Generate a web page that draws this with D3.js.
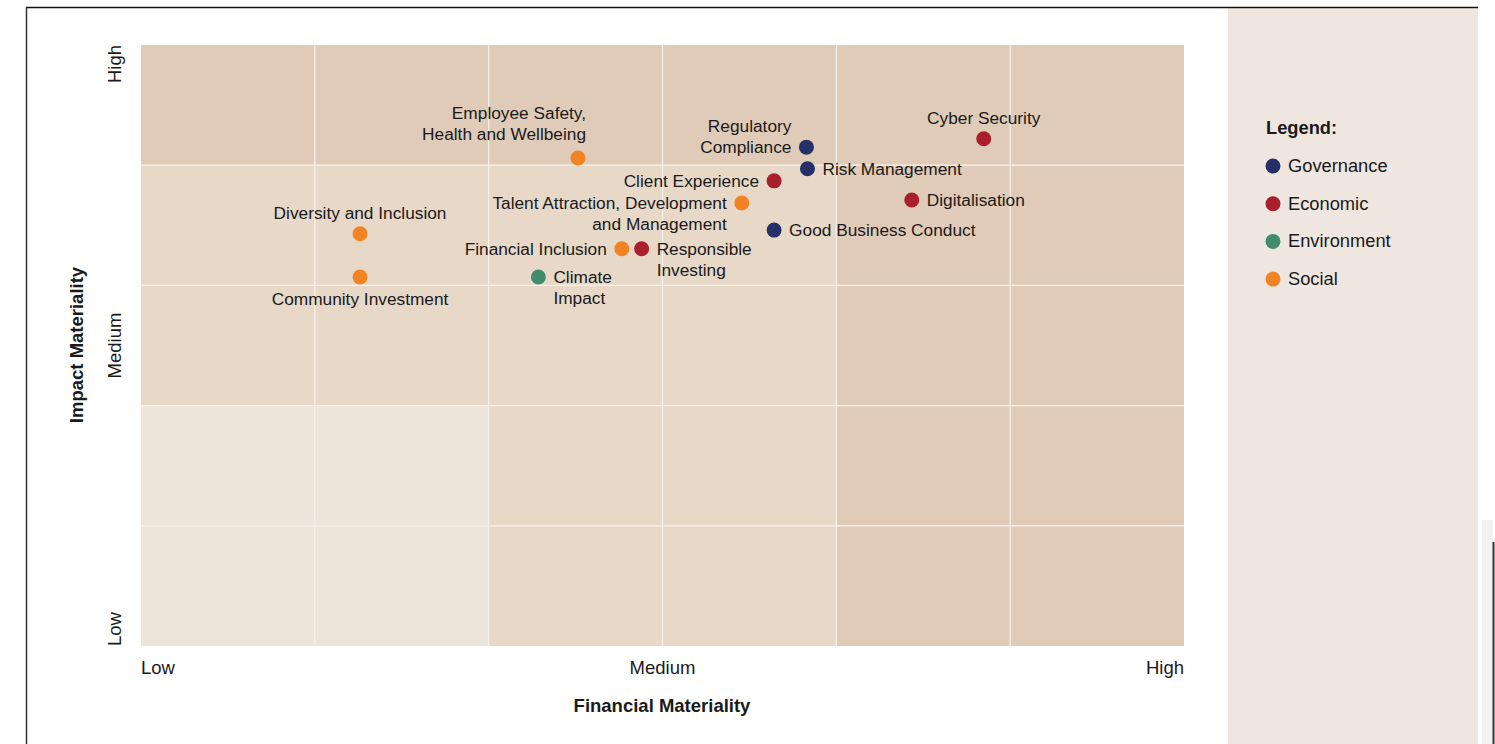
<!DOCTYPE html>
<html lang="en">
<head>
    <meta charset="UTF-8">
    <title>Materiality Matrix</title>
    <script src="https://d3js.org/d3.v7.min.js"></script>
    <style>
        body {
            margin: 0;
            background: #fff;
            font-family: "Liberation Sans", Arial, Helvetica, sans-serif;
        }
        svg text {
            fill: #1a1a1a;
        }
    </style>
</head>
<body>
    <svg width="1495" height="744"></svg>
    <script>
        // topics, their category and position (0-10 on both axes)
        const topics = [
            "Employee Safety,|Health and Wellbeing", "Diversity and Inclusion", "Community Investment",
            "Climate|Impact", "Financial Inclusion", "Responsible|Investing",
            "Talent Attraction, Development|and Management", "Client Experience", "Good Business Conduct",
            "Regulatory|Compliance", "Risk Management", "Digitalisation", "Cyber Security"
        ];
        const categories = ["Social", "Social", "Social", "Environment", "Social", "Economic",
            "Social", "Economic", "Governance", "Governance", "Governance", "Economic", "Economic"];
        const financial = [4.19, 2.10, 2.10, 3.81, 4.61, 4.80, 5.76, 6.07, 6.07, 6.38, 6.39, 7.39, 8.08];
        const impact = [8.12, 6.86, 6.14, 6.14, 6.61, 6.61, 7.37, 7.74, 6.92, 8.30, 7.94, 7.42, 8.44];
        // label placement: side of the dot
        const labelPos = ["left-up", "above", "below", "right", "left", "right",
            "left", "left", "right", "left-up", "right", "right", "above"];

        const legendNames = ["Governance", "Economic", "Environment", "Social"];
        const legendColors = ["#253068", "#a91f2e", "#3f8d6d", "#f28322"];
        const tickLabels = ["Low", "Medium", "High"];

        // background shading per grid cell (rows from top), 0 light, 1 medium, 2 dark
        const cellShade = [
            [2, 2, 2, 2, 2, 2],
            [1, 1, 1, 1, 2, 2],
            [1, 1, 1, 1, 2, 2],
            [0, 0, 1, 1, 2, 2],
            [0, 0, 1, 1, 2, 2]
        ];
        const shadeColors = ["#ede4da", "#e7d8c8", "#e0cbb8"];

        const svg = d3.select("svg");
        const color = d3.scaleOrdinal().domain(legendNames).range(legendColors);

        // frame and legend panel
        svg.append("rect").attr("x", 1228).attr("y", 8).attr("width", 250).attr("height", 736).attr("fill", "#efe6e0");
        svg.append("line").attr("x1", 26).attr("x2", 1478).attr("y1", 7.5).attr("y2", 7.5)
            .attr("stroke", "#111").attr("stroke-width", 1.5);
        svg.append("line").attr("x1", 26.5).attr("x2", 26.5).attr("y1", 7).attr("y2", 744)
            .attr("stroke", "#333").attr("stroke-width", 1.5);
        svg.append("rect").attr("x", 1482).attr("y", 520).attr("width", 11).attr("height", 224).attr("fill", "#f2f2f2");
        svg.append("line").attr("x1", 1493.5).attr("x2", 1493.5).attr("y1", 542).attr("y2", 744)
            .attr("stroke", "#333").attr("stroke-width", 2);

        const plotL = 141, plotR = 1184, plotT = 45, plotB = 646;
        const x = d3.scaleLinear().domain([0, 10]).range([plotL, plotR]);
        const y = d3.scaleLinear().domain([0, 10]).range([plotB, plotT]);

        const cols = d3.scaleBand().domain(d3.range(6)).range([plotL, plotR]);
        const rows = d3.scaleBand().domain(d3.range(5)).range([plotT, plotB]);

        const g = svg.append("g");
        cellShade.forEach((row, r) => {
            row.forEach((s, c) => {
                g.append("rect")
                    .attr("x", cols(c)).attr("y", rows(r))
                    .attr("width", cols.bandwidth()).attr("height", rows.bandwidth())
                    .attr("fill", shadeColors[s]);
            });
        });

        // white grid lines
        d3.range(1, 6).forEach(c => {
            g.append("line").attr("x1", cols(c)).attr("x2", cols(c)).attr("y1", plotT).attr("y2", plotB)
                .attr("stroke", "#f7f1eb").attr("stroke-width", 1.2);
        });
        d3.range(1, 5).forEach(r => {
            g.append("line").attr("x1", plotL).attr("x2", plotR).attr("y1", rows(r)).attr("y2", rows(r))
                .attr("stroke", "#f7f1eb").attr("stroke-width", 1.2);
        });

        // tick labels
        const tickVals = [0, 5, 10];
        const anchors = ["start", "middle", "end"];
        tickVals.forEach((v, i) => {
            svg.append("text").attr("x", x(v)).attr("y", 674)
                .attr("text-anchor", anchors[i]).attr("font-size", 18.5).text(tickLabels[i]);
            svg.append("text")
                .attr("transform", `translate(121,${y(v)}) rotate(-90)`)
                .attr("text-anchor", anchors[i]).attr("font-size", 18.5).text(tickLabels[i]);
        });

        svg.append("text").attr("x", 662).attr("y", 712).attr("text-anchor", "middle")
            .attr("font-size", 18.5).attr("font-weight", "bold").text("Financial Materiality");
        svg.append("text").attr("transform", `translate(83,345) rotate(-90)`).attr("text-anchor", "middle")
            .attr("font-size", 18.5).attr("font-weight", "bold").text("Impact Materiality");

        // points
        const data = topics.map((t, i) => ({
            name: t, cat: categories[i], fx: financial[i], iy: impact[i], pos: labelPos[i]
        }));

        const pts = svg.append("g");
        pts.selectAll("circle").data(data).enter().append("circle")
            .attr("cx", d => x(d.fx)).attr("cy", d => y(d.iy)).attr("r", 7.5)
            .attr("fill", d => color(d.cat));

        data.forEach(d => {
            const cx = x(d.fx), cy = y(d.iy);
            const lines = d.name.split("|");
            const lh = 21;
            let tx, ty, anchor;
            if (d.pos === "right") { tx = cx + 15; ty = cy + 6; anchor = "start"; }
            else if (d.pos === "left") { tx = cx - 15; ty = cy + 6; anchor = "end"; }
            else if (d.pos === "left-up") {
                tx = cx - 15; anchor = "end";
                ty = d.name.startsWith("Employee") ? cy - 39 : cy - 15;
                if (d.name.startsWith("Employee")) tx = cx + 8;
            }
            else if (d.pos === "above") { tx = cx; ty = cy - 15; anchor = "middle"; }
            else { tx = cx; ty = cy + 28; anchor = "middle"; }
            const t = svg.append("text").attr("x", tx).attr("y", ty)
                .attr("text-anchor", anchor).attr("font-size", 17.3);
            lines.forEach((l, k) => {
                t.append("tspan").attr("x", tx).attr("dy", k === 0 ? 0 : lh).text(l);
            });
        });

        // legend
        svg.append("text").attr("x", 1266).attr("y", 134).attr("font-size", 18.3)
            .attr("font-weight", "bold").text("Legend:");
        legendNames.forEach((n, i) => {
            const ly = 166 + i * 37.7;
            svg.append("circle").attr("cx", 1273).attr("cy", ly).attr("r", 7.5).attr("fill", color(n));
            svg.append("text").attr("x", 1288).attr("y", ly + 6).attr("font-size", 18.3).text(n);
        });
    </script>
</body>
</html>
